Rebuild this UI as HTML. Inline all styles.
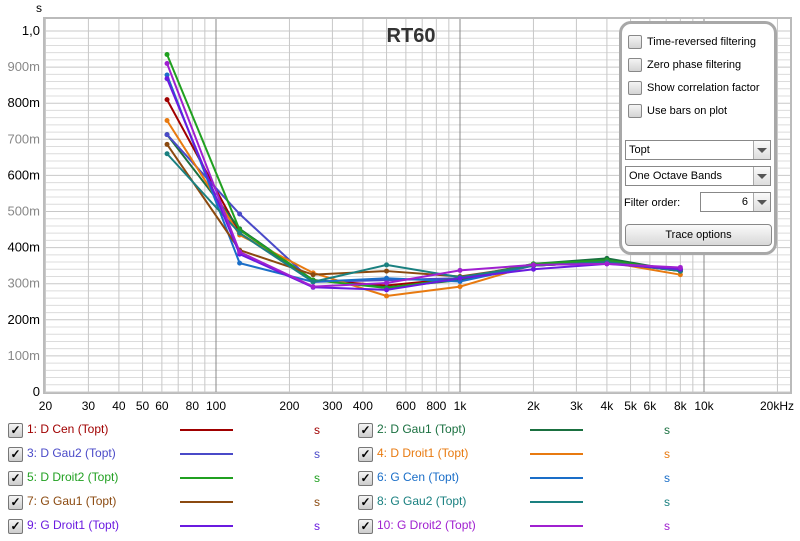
<!DOCTYPE html><html><head><style>
body{margin:0;background:#fff;font-family:"Liberation Sans",sans-serif}
.w{position:relative;width:800px;height:541px;overflow:hidden}
.p{position:absolute;left:619px;top:21px;width:152px;height:228px;border:3px solid #a8a8a8;border-radius:12px;background:#fff;font-size:11px}
.cb{position:absolute;left:6px;width:12px;height:12px;border:1px solid #888;border-radius:2px;background:linear-gradient(#f4f4f4,#d4d4d4)}
.lb{position:absolute;left:25px}
.dd{position:absolute;left:3px;width:144px;height:18px;border:1px solid #888;background:#fff}
.dd span{position:absolute;left:3px;top:3px}
.ar{position:absolute;right:0;top:0;width:16px;height:18px;border-left:1px solid #aaa;background:linear-gradient(#fafafa,#ddd)}
.ar:after{content:"";position:absolute;left:3px;top:7px;border-left:5px solid transparent;border-right:5px solid transparent;border-top:5px solid #555}
.btn{position:absolute;left:3px;top:200px;width:145px;height:20px;border:1px solid #888;border-radius:4px;background:linear-gradient(#fafafa,#d8d8d8);text-align:center;line-height:20px}
.lg{position:absolute;font-size:12px}
.ck{position:absolute;width:13px;height:13px;border:1px solid #777;border-radius:2px;background:linear-gradient(#f4f4f4,#ccc);font-size:12px;line-height:13px;text-align:center;font-weight:bold;color:#000}
</style></head><body><div class="w">
<svg width="800" height="541" style="position:absolute;left:0;top:0" font-family="Liberation Sans" font-size="12">
<rect x="44" y="18" width="747" height="375" fill="#fff" stroke="#bbb" stroke-width="2"/>
<g stroke="#dcdcdc" stroke-width="1" id="hg"></g>
<g stroke="#c4c4c4" id="vg"></g>
<text x="36" y="12" font-size="12">s</text>
<g id="yl" text-anchor="end" font-size="13"></g>
<g id="xl" text-anchor="middle" font-size="12"></g>
<text x="411" y="42" font-size="20" font-weight="bold" text-anchor="middle" fill="#333">RT60</text>
<g id="series" stroke-width="2" fill="none"></g>
</svg>
<div class="p">
<div class="cb" style="top:11px"></div><div class="lb" style="top:12px">Time-reversed filtering</div>
<div class="cb" style="top:34px"></div><div class="lb" style="top:35px">Zero phase filtering</div>
<div class="cb" style="top:57px"></div><div class="lb" style="top:58px">Show correlation factor</div>
<div class="cb" style="top:80px"></div><div class="lb" style="top:81px">Use bars on plot</div>
<div class="dd" style="top:116px"><span>Topt</span><div class="ar"></div></div>
<div class="dd" style="top:142px"><span>One Octave Bands</span><div class="ar"></div></div>
<div style="position:absolute;left:2px;top:173px">Filter order:</div>
<div class="dd" style="top:168px;left:78px;width:69px"><span style="left:auto;right:22px">6</span><div class="ar"></div></div>
<div class="btn">Trace options</div>
</div>
<div id="leg"></div>
</div>
<script>
const y=v=>392-v*361, x=f=>216+244*Math.log10(f/100);
let h='';for(let v=0;v<=1.0001;v+=0.02){h+=`<line x1="45" x2="790" y1="${y(v)}" y2="${y(v)}" ${Math.round(v*100)%10==0?'stroke="#c8c8c8"':''}/>`}
document.getElementById('hg').innerHTML=h;
let g='';const fs=[];for(let d=10;d<=10000;d*=10)for(let k=1;k<10;k++){let f=d*k;if(f>=20&&f<=20000)fs.push(f)}
fs.forEach(f=>{const m=[100,1000,10000].includes(f);g+=`<line x1="${x(f)}" x2="${x(f)}" y1="19" y2="392" stroke="${m?'#888':'#c8c8c8'}"/>`});
document.getElementById('vg').innerHTML=g;
let yl='';for(let i=0;i<=10;i++){let t=i==0?'0':i==10?'1,0':i*100+'m';yl+=`<text x="40" y="${y(i/10)+4}" fill="${i%2?'#888':'#000'}">${t}</text>`}
document.getElementById('yl').innerHTML=yl;
let xl='';[[20,'20'],[30,'30'],[40,'40'],[50,'50'],[60,'60'],[80,'80'],[100,'100'],[200,'200'],[300,'300'],[400,'400'],[600,'600'],[800,'800'],[1000,'1k'],[2000,'2k'],[3000,'3k'],[4000,'4k'],[5000,'5k'],[6000,'6k'],[8000,'8k'],[10000,'10k']].forEach(([f,t])=>xl+=`<text x="${x(f)}" y="410">${t}</text>`);
xl+=`<text x="777" y="410">20kHz</text>`;
document.getElementById('xl').innerHTML=xl;
const F=[63,125,250,500,1000,2000,4000,8000];
const S=[
['1: D Cen (Topt)','#a00000',[.81,.44,.31,.295,.315,.35,.36,.34]],
['2: D Gau1 (Topt)','#1a7040',[.713,.452,.31,.29,.31,.355,.37,.335]],
['3: D Gau2 (Topt)','#4a4ac8',[.713,.493,.305,.31,.315,.35,.36,.34]],
['4: D Droit1 (Topt)','#e87a10',[.752,.435,.33,.266,.292,.352,.36,.325]],
['5: D Droit2 (Topt)','#20a020',[.935,.449,.31,.288,.315,.355,.365,.335]],
['6: G Cen (Topt)','#1a6ec8',[.878,.357,.305,.315,.306,.35,.36,.335]],
['7: G Gau1 (Topt)','#8b4a10',[.686,.393,.325,.335,.32,.35,.36,.335]],
['8: G Gau2 (Topt)','#1a8080',[.660,.440,.305,.352,.318,.35,.36,.335]],
['9: G Droit1 (Topt)','#6a1ae0',[.868,.382,.29,.283,.315,.34,.355,.34]],
['10: G Droit2 (Topt)','#a020d0',[.910,.388,.292,.302,.337,.352,.355,.345]]];
let s='',lg='';
S.forEach(([n,c,v],i)=>{s+=`<polyline stroke="${c}" points="${v.map((a,j)=>x(F[j])+','+y(a)).join(' ')}"/>`;v.forEach((a,j)=>s+=`<circle cx="${x(F[j])}" cy="${y(a)}" r="2.5" fill="${c}" stroke="none"/>`);
const col=i%2,row=Math.floor(i/2),bx=col?358:8,ty=423+row*24;
lg+=`<div class="ck" style="left:${bx}px;top:${ty}px">✓</div><div class="lg" style="left:${bx+19}px;top:${ty-1}px;color:${c}">${n}</div><div style="position:absolute;left:${bx+172}px;top:${ty+6}px;width:53px;height:2px;background:${c}"></div><div class="lg" style="left:${bx+306}px;top:${ty}px;color:${c}">s</div>`});
document.getElementById('series').innerHTML=s;document.getElementById('leg').innerHTML=lg;
</script></body></html>
